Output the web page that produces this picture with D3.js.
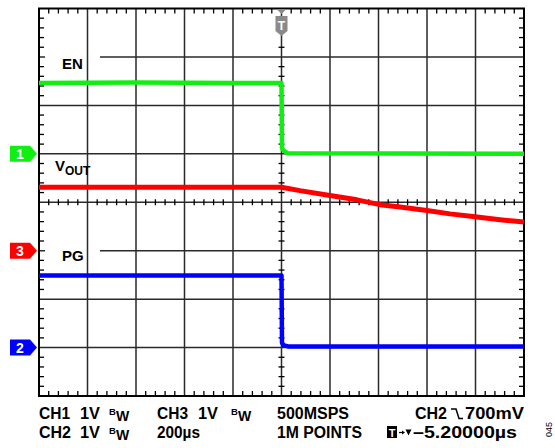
<!DOCTYPE html>
<html>
<head>
<meta charset="utf-8">
<script src="https://cdn.jsdelivr.net/npm/d3@7"></script>
<style>
  html, body { margin: 0; padding: 0; background: #fff; }
  svg text { font-family: "Liberation Sans", Arial, sans-serif; font-weight: bold; fill: #000; }
</style>
</head>
<body>
<svg id="scope" width="555" height="448"></svg>
<script>
// ---- data (time in µs, volts; 1V/div, 200µs/div) ----
var enTime   = [-1000, -600, -200, 0, 2, 8, 25, 1000];
var enVolts  = [1.46, 1.47, 1.46, 1.46, 0.12, 0.07, 0.01, 0.0];

var voutTime  = [-1000, -500, 0, 76, 200, 311, 406, 489, 600, 695, 798, 901, 1000];
var voutVolts = [1.31, 1.31, 1.31, 1.24, 1.14, 1.05, 0.95, 0.90, 0.83, 0.76, 0.70, 0.64, 0.59];

var pgTime   = [-1000, -500, 0, 2, 8, 30, 1000];
var pgVolts  = [1.49, 1.49, 1.49, 0.10, 0.05, 0.02, 0.02];

// channel ground positions, in divisions from screen centre
var channels = [
  {id: "1", name: "EN",   pos: 1,  color: "#11ee11", width: 4.5},
  {id: "3", name: "VOUT", pos: -1, color: "#ff0000", width: 5},
  {id: "2", name: "PG",   pos: -3, color: "#0000ff", width: 4.5}
];

var infoLine1 = ["CH1", "1V", "CH3", "1V", "500MSPS", "CH2", "700mV"];
var infoLine2 = ["CH2", "1V", "200µs", "1M POINTS", "–5.20000µs"];

var svg = d3.select("#scope");

var x = d3.scaleLinear().domain([-1000, 1000]).range([39, 524]);
var y = d3.scaleLinear().domain([-4, 4]).range([396, 8.5]);

var divX = d3.range(-5, 6).map(d => d * 200);
var divY = d3.range(-4, 5);
var minorX = d3.range(-25, 26).map(d => d * 40);
var minorY = d3.range(-20, 21).map(d => d / 5);

var grid = svg.append("g");

// horizontal grid lines first so label masks can break them
grid.selectAll(".h").data(divY.slice(1, -1)).enter().append("line")
  .attr("x1", x(-1000)).attr("x2", x(1000))
  .attr("y1", d => y(d)).attr("y2", d => y(d))
  .attr("stroke", "#2a2a2a").attr("stroke-width", 1.5);

// white breaks behind EN / PG labels
[{pos: 3}, {pos: -1}].forEach(m => {
  grid.append("rect").attr("x", 45).attr("width", 55)
    .attr("y", y(m.pos) - 3).attr("height", 6).attr("fill", "#fff");
});

grid.selectAll(".v").data(divX.slice(1, -1)).enter().append("line")
  .attr("y1", y(4)).attr("y2", y(-4))
  .attr("x1", d => x(d)).attr("x2", d => x(d))
  .attr("stroke", "#2a2a2a").attr("stroke-width", 1.5);

// minor ticks on the border and on the centre lines
var ticks = svg.append("g").attr("stroke", "#000").attr("stroke-width", 1.3);
minorX.filter(d => d % 200 !== 0).forEach(t => {
  ticks.append("line").attr("x1", x(t)).attr("x2", x(t)).attr("y1", y(4)).attr("y2", y(4) + 5);
  ticks.append("line").attr("x1", x(t)).attr("x2", x(t)).attr("y1", y(-4)).attr("y2", y(-4) - 5);
  ticks.append("line").attr("x1", x(t)).attr("x2", x(t)).attr("y1", y(0) - 3).attr("y2", y(0) + 3);
});
minorY.filter(d => Math.abs(d - Math.round(d)) > 1e-6).forEach(v => {
  ticks.append("line").attr("y1", y(v)).attr("y2", y(v)).attr("x1", x(-1000)).attr("x2", x(-1000) + 5);
  ticks.append("line").attr("y1", y(v)).attr("y2", y(v)).attr("x1", x(1000)).attr("x2", x(1000) - 5);
  if (y(v) > 38)
    ticks.append("line").attr("y1", y(v)).attr("y2", y(v)).attr("x1", x(0) - 3).attr("x2", x(0) + 3);
});

// outer frame
svg.append("rect")
  .attr("x", x(-1000)).attr("y", y(4))
  .attr("width", x(1000) - x(-1000)).attr("height", y(-4) - y(4))
  .attr("fill", "none").attr("stroke", "#000").attr("stroke-width", 2);

//************************ traces *************************/
var traces = [
  {t: enTime,   v: enVolts,   ch: channels[0]},
  {t: voutTime, v: voutVolts, ch: channels[1]},
  {t: pgTime,   v: pgVolts,   ch: channels[2]}
];

traces.forEach(tr => {
  var pts = tr.t.map((t, i) => [t, tr.v[i]]);
  var line = d3.line()
    .x(d => x(d[0]))
    .y(d => y(tr.ch.pos + d[1]));
  svg.append("path")
    .attr("d", line(pts))
    .attr("fill", "none")
    .attr("stroke", tr.ch.color)
    .attr("stroke-width", tr.ch.width)
    .attr("stroke-linejoin", "round");
});

//************************ channel markers *************************/
channels.forEach(ch => {
  var cy = y(ch.pos);
  svg.append("path")
    .attr("d", "M10," + (cy - 8) + "H30L37," + cy + "L30," + (cy + 8) + "H10Z")
    .attr("fill", ch.color);
  svg.append("text")
    .attr("x", 20).attr("y", cy + 5)
    .attr("text-anchor", "middle")
    .style("font-size", "14px").style("fill", "#fff")
    .text(ch.id);
});

// trigger marker
var tx = x(0);
svg.append("path")
  .attr("d", "M" + (tx - 5) + ",9H" + (tx + 5) + "L" + tx + ",14Z")
  .attr("fill", "#8a8a8a");
svg.append("path")
  .attr("d", "M" + (tx - 6) + ",16H" + (tx + 6) + "V31L" + tx + ",36L" + (tx - 6) + ",31Z")
  .attr("fill", "#8a8a8a");
svg.append("text").attr("x", tx).attr("y", 30).attr("text-anchor", "middle")
  .style("font-size", "12px").style("fill", "#fff").text("T");

// trace labels
svg.append("text").attr("x", 62).attr("y", 69).style("font-size", "15px").text("EN");
var vl = svg.append("text").attr("x", 55).attr("y", 171).style("font-size", "15px");
vl.append("tspan").text("V");
vl.append("tspan").attr("dy", 4).style("font-size", "12px").text("OUT");
svg.append("text").attr("x", 62).attr("y", 261).style("font-size", "15px").text("PG");

//************************ bottom readout *************************/
var info = svg.append("g").style("font-size", "16px");
var l1 = 419, l2 = 438;
// [x, text, width on screen]
[[39, infoLine1[0], 31], [80, infoLine1[1], 20], [157, infoLine1[2], 31], [198, infoLine1[3], 20],
 [277, infoLine1[4], 72], [415, infoLine1[5], 32], [465, infoLine1[6], 59]].forEach(d => {
  info.append("text").attr("x", d[0]).attr("y", l1)
    .attr("textLength", d[2]).attr("lengthAdjust", "spacingAndGlyphs").text(d[1]);
});
[[39, infoLine2[0], 32], [80, infoLine2[1], 20], [157, infoLine2[2], 43], [277, infoLine2[3], 85],
 [413, infoLine2[4], 104]].forEach(d => {
  info.append("text").attr("x", d[0]).attr("y", l2)
    .attr("textLength", d[2]).attr("lengthAdjust", "spacingAndGlyphs").text(d[1]);
});

// bandwidth-limit marks
[[109, l1], [231, l1], [109, l2]].forEach(d => {
  info.append("text").attr("x", d[0]).attr("y", d[1] - 4.5).style("font-size", "9.5px").text("B");
  info.append("text").attr("x", d[0] + 7).attr("y", d[1] + 1.5).style("font-size", "14px").text("W");
});

// falling-edge symbol
info.append("path")
  .attr("d", "M451,409H456L459,418.5H463")
  .attr("fill", "none").attr("stroke", "#000").attr("stroke-width", 1.5);

// trigger position readout
info.append("rect").attr("x", 387).attr("y", 426).attr("width", 10).attr("height", 12).attr("fill", "#000");
info.append("text").attr("x", 392).attr("y", 436.5).attr("text-anchor", "middle")
  .style("font-size", "11px").style("fill", "#fff").text("T");
info.append("path").attr("d", "M399,432.5H403").attr("stroke", "#000").attr("stroke-width", 1.2);
info.append("path").attr("d", "M402,430.5L405,432.5L402,434.5Z").attr("fill", "#000");
info.append("path").attr("d", "M405.5,429.5H411.5L408.5,435.5Z").attr("fill", "#000");

// figure number
svg.append("text")
  .attr("transform", "translate(552,437) rotate(-90)")
  .style("font-size", "9px").style("font-weight", "normal")
  .text("045");
</script>
</body>
</html>
